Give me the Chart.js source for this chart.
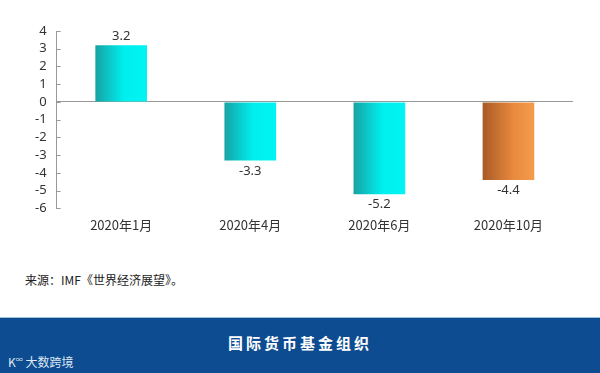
<!DOCTYPE html>
<html>
<head>
<meta charset="utf-8">
<script src="https://cdn.jsdelivr.net/npm/chart.js@4"></script>
<style>
  body { margin: 0; width: 600px; height: 373px; background: #fff; position: relative; overflow: hidden;
         font-family: "Noto Sans CJK SC", "Noto Sans", sans-serif; }
  #wrap { position: absolute; left: 0; top: 0; width: 600px; height: 250px; }
  #source { position: absolute; left: 25px; top: 271px; font-size: 12px; color: #222; }
  #band { position: absolute; left: 0; top: 317px; width: 600px; height: 56px; background: #0d4c91;
          border-top: 1px solid #9fc3dc; }
  #title { position: absolute; left: 0; width: 600px; top: 14px; text-align: center; color: #fff;
           font-size: 15px; font-weight: bold; letter-spacing: 3px; }
  #mark { position: absolute; left: 8px; top: 35px; color: #dfe8f3; font-size: 12px; }
</style>
</head>
<body>
<div id="wrap"><canvas id="bar-chart"></canvas></div>
<div id="source">来源：IMF《世界经济展望》。</div>
<div id="band">
  <div id="title">国际货币基金组织</div>
  <div id="mark">K<sup style="font-size:7px">∞</sup> 大数跨境</div>
</div>
<script>
// datos
const labels = ['2020年1月', '2020年4月', '2020年6月', '2020年10月'];
const valores = [3.2, -3.3, -5.2, -4.4];
const yTicks = [4, 3, 2, 1, 0, -1, -2, -3, -4, -5, -6];

// degradado de cada barra (oscuro a la izquierda)
function relleno(context) {
    const chart = context.chart;
    const xs = chart.scales.x;
    if (!xs || !chart.chartArea) return '#00e5e5';
    const i = context.dataIndex;
    const cx = xs.getPixelForValue(i);
    const w = (xs.width / labels.length) * 0.4;
    const g = chart.ctx.createLinearGradient(cx - w / 2, 0, cx + w / 2, 0);
    if (i === 3) {
        g.addColorStop(0, '#a85a26');
        g.addColorStop(0.6, '#e98a3e');
        g.addColorStop(1, '#f59c4c');
    } else {
        g.addColorStop(0, '#17a2a4');
        g.addColorStop(0.55, '#00eeee');
        g.addColorStop(1, '#00f4f4');
    }
    return g;
}

// etiquetas de valor y marcas del eje
const extras = {
    id: 'extras',
    afterDatasetsDraw(chart) {
        const ctx = chart.ctx;
        const meta = chart.getDatasetMeta(0);
        ctx.save();
        ctx.font = '13px "Noto Sans", sans-serif';
        ctx.fillStyle = '#333';
        ctx.textAlign = 'center';
        meta.data.forEach((bar, i) => {
            const v = valores[i];
            if (v >= 0) {
                ctx.textBaseline = 'bottom';
                ctx.fillText(v.toFixed(1), bar.x, bar.y - 2);
            } else {
                ctx.textBaseline = 'top';
                ctx.fillText(v.toFixed(1), bar.x, bar.y + 4);
            }
        });
        const ys = chart.scales.y;
        ctx.strokeStyle = '#999';
        ctx.lineWidth = 1;
        yTicks.forEach(t => {
            const py = Math.round(ys.getPixelForValue(t)) + 0.5;
            ctx.beginPath();
            ctx.moveTo(ys.right, py);
            ctx.lineTo(ys.right + 4, py);
            ctx.stroke();
        });
        ctx.restore();
    }
};

const ctx1 = document.getElementById('bar-chart').getContext('2d');
const grafico = new Chart(ctx1, {
    type: 'bar',
    data: {
        labels: labels,
        datasets: [{
            data: valores,
            backgroundColor: relleno,
            categoryPercentage: 1,
            barPercentage: 0.4
        }]
    },
    options: {
        responsive: true,
        maintainAspectRatio: false,
        animation: false,
        layout: { padding: { top: 31, right: 27, left: 25, bottom: 16 } },
        scales: {
            x: {
                grid: { display: false },
                border: { display: false },
                ticks: {
                    color: '#333',
                    font: { size: 13, family: '"Noto Sans CJK SC", sans-serif' },
                    padding: 1
                }
            },
            y: {
                min: -6,
                max: 4,
                afterBuildTicks: axis => { axis.ticks = yTicks.map(v => ({ value: v })); },
                grid: {
                    drawTicks: false,
                    color: c => (c.tick && c.tick.value === 0 ? '#999' : 'rgba(0,0,0,0)')
                },
                border: { display: true, color: '#999' },
                ticks: {
                    color: '#333',
                    autoSkip: false,
                    font: { size: 13, family: '"Noto Sans", sans-serif' },
                    padding: 10
                }
            }
        },
        plugins: {
            legend: { display: false },
            tooltip: { enabled: false }
        }
    },
    plugins: [extras]
});
</script>
</body>
</html>
